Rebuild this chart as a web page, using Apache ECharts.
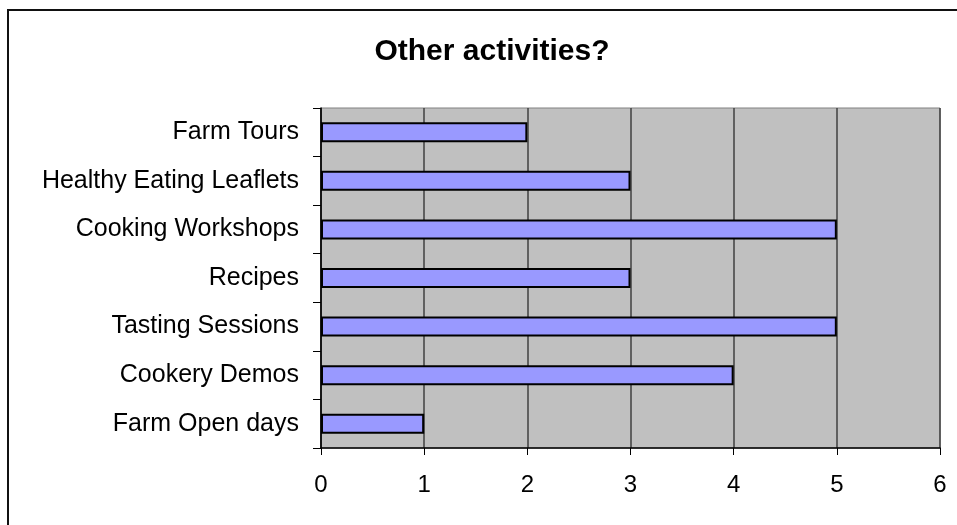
<!DOCTYPE html>
<html>
<head>
<meta charset="utf-8">
<script src="https://cdn.jsdelivr.net/npm/echarts@6/dist/echarts.min.js"></script>
<style>
  html, body { margin: 0; padding: 0; background: #fff; }
  #chart { width: 957px; height: 525px; }
</style>
</head>
<body>
<div id="chart"></div>
<script>
// Activities, listed top to bottom
const activities = [
  'Farm Tours',
  'Healthy Eating Leaflets',
  'Cooking Workshops',
  'Recipes',
  'Tasting Sessions',
  'Cookery Demos',
  'Farm Open days'
];
// Number of responses per activity
const counts = [2, 3, 5, 3, 5, 4, 1];
const valueTicks = [0, 1, 2, 3, 4, 5, 6];

const chart = echarts.init(document.getElementById('chart'), null, { renderer: 'canvas' });

const font = '"Liberation Sans", Arial, sans-serif';

chart.setOption({
  animation: false,
  backgroundColor: '#ffffff',
  title: {
    text: 'Other activities?',
    left: 487,
    top: 32,
    textAlign: 'center',
    textStyle: { fontFamily: font, fontSize: 30, fontWeight: 'bold', color: '#000' }
  },
  graphic: [
    {
      type: 'rect',
      shape: { x: 8, y: 10, width: 980, height: 540 },
      style: { fill: 'none', stroke: '#111', lineWidth: 2 },
      z: -1
    }
  ],
  grid: {
    left: 321, right: 17, top: 108, bottom: 77,
    show: true,
    backgroundColor: '#c0c0c0',
    borderColor: '#808080',
    borderWidth: 1
  },
  xAxis: {
    type: 'value',
    min: valueTicks[0],
    max: valueTicks[valueTicks.length - 1],
    interval: 1,
    axisLine: { show: true, lineStyle: { color: '#000', width: 1.5 } },
    axisTick: { show: true, length: 7, lineStyle: { color: '#000' } },
    splitLine: { show: true, lineStyle: { color: '#404040', width: 1.5 } },
    axisLabel: { margin: 25, fontFamily: font, fontSize: 24, color: '#000' }
  },
  yAxis: {
    type: 'category',
    data: activities,
    inverse: true,
    axisLine: { show: true, lineStyle: { color: '#000', width: 1.5 } },
    axisTick: { show: true, length: 8, alignWithLabel: false, lineStyle: { color: '#000' } },
    axisLabel: { margin: 22, fontFamily: font, fontSize: 25, color: '#000' }
  },
  series: [{
    type: 'bar',
    data: counts,
    barWidth: 20,
    itemStyle: { color: '#9999ff', borderColor: '#000', borderWidth: 2 }
  }]
});
</script>
</body>
</html>
